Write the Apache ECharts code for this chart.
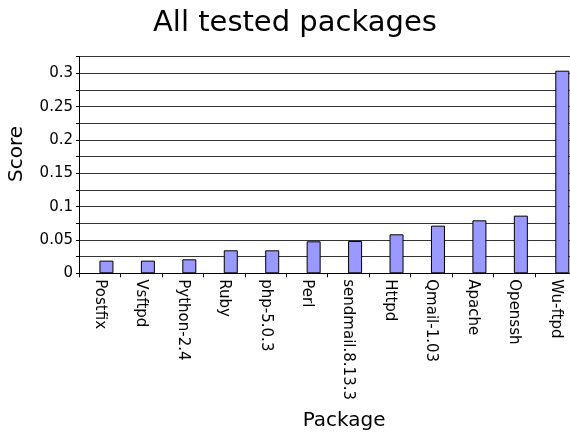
<!DOCTYPE html>
<html>
<head>
<meta charset="utf-8">
<script src="https://cdn.jsdelivr.net/npm/echarts@6/dist/echarts.min.js"></script>
<style>
html, body { margin: 0; padding: 0; background: #fff; }
#main { width: 570px; height: 432px; }
</style>
</head>
<body>
<div id="main"></div>
<script type="text/javascript">
var packages = ['Postfix', 'Vsftpd', 'Python-2.4', 'Ruby', 'php-5.0.3', 'Perl',
	'sendmail.8.13.3', 'Httpd', 'Qmail-1.03', 'Apache', 'Openssh', 'Wu-ftpd'];
var scores = [0.019, 0.019, 0.021, 0.0345, 0.0345, 0.048,
	0.0485, 0.0585, 0.0715, 0.0795, 0.0865, 0.304];
// empty slot so the real bars sit right of the category centre
var spacer = packages.map(function () { return null; });

var font = 'DejaVu Sans';
var myChart = echarts.init(document.getElementById('main'));
var option = {
	animation: false,
	title: {
		text: 'All tested packages',
		left: 148,
		top: 4,
		textStyle: { fontFamily: font, fontSize: 29, fontWeight: 'normal', color: '#000' }
	},
	grid: { left: 79, right: -6.3, top: 56.7, bottom: 158.7, containLabel: false, outerBoundsMode: 'none' },
	xAxis: {
		type: 'category',
		data: packages,
		name: 'Package',
		nameLocation: 'middle',
		nameGap: 137,
		nameTextStyle: { fontFamily: font, fontSize: 20, color: '#000', padding: [0, 0, 0, 33] },
		axisLine: { lineStyle: { color: '#000', width: 1 } },
		axisTick: { show: true, length: 4, lineStyle: { color: '#000' } },
		axisLabel: { rotate: -90, margin: 6, fontFamily: font, fontSize: 15, color: '#000' }
	},
	yAxis: {
		type: 'value',
		min: 0,
		max: 0.325,
		interval: 0.025,
		name: 'Score',
		nameLocation: 'middle',
		nameGap: 52,
		nameRotate: 90,
		nameTextStyle: { fontFamily: font, fontSize: 20, color: '#000', padding: [0, 0, 0, 22] },
		axisLine: { show: true, lineStyle: { color: '#000', width: 1 } },
		axisTick: { show: true, length: 3, lineStyle: { color: '#000' } },
		axisLabel: {
			margin: 6,
			fontFamily: font,
			fontSize: 15,
			color: '#000',
			formatter: function (v) {
				return Math.round(v / 0.025) % 2 === 0 ? String(+v.toFixed(3)) : '';
			}
		},
		splitLine: { show: true, lineStyle: { color: '#333', width: 1 } }
	},
	series: [{
		type: 'bar',
		data: spacer,
		barWidth: 14,
		barGap: '-4%',
		silent: true
	}, {
		type: 'bar',
		data: scores,
		barWidth: 14,
		barGap: '-4%',
		itemStyle: { color: '#9999ff', borderColor: '#000', borderWidth: 1 }
	}]
};
myChart.setOption(option);
</script>
</body>
</html>
